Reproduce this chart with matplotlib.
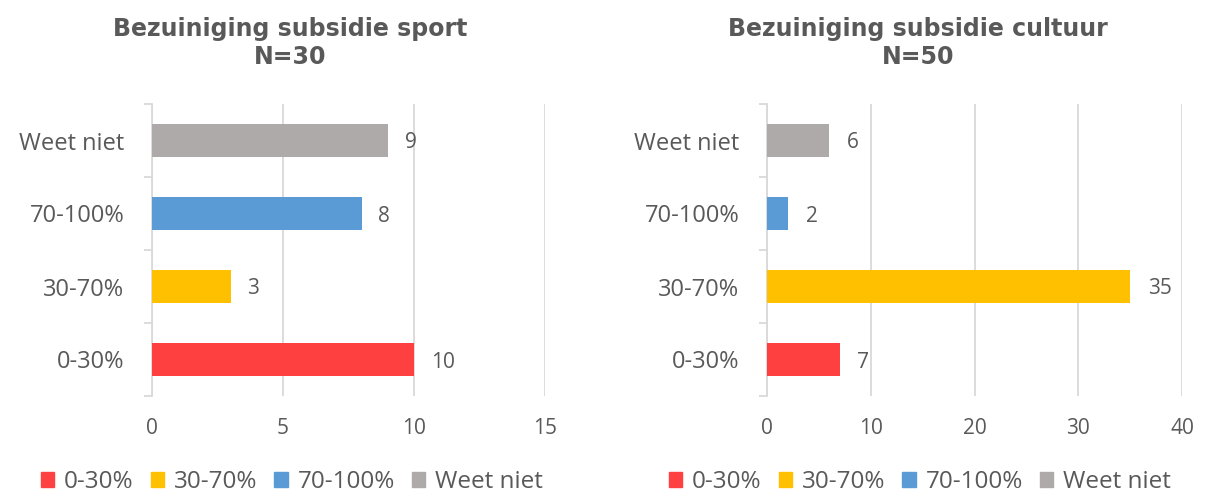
import matplotlib.pyplot as plt
from matplotlib.patches import Patch

# data
categories = ['0-30%', '30-70%', '70-100%', 'Weet niet']
sport_values = [10, 3, 8, 9]
cultuur_values = [7, 35, 2, 6]
sport_title = 'Bezuiniging subsidie sport\nN=30'
cultuur_title = 'Bezuiniging subsidie cultuur\nN=50'
colors = ['#ff4040', '#ffc000', '#5b9bd5', '#aeaaaa']

plt.rcParams['font.family'] = ['Open Sans', 'DejaVu Sans']
txt = '#595959'
grid = '#d9d9d9'

fig = plt.figure(figsize=(12.06, 4.96), dpi=100)
W, H = 1206, 496


def draw_panel(rect, values, xmax, step, title, title_x, legend_x):
    ax = fig.add_axes(rect)
    y = range(len(categories))
    ax.barh(y, values, height=0.44, color=colors, zorder=3)
    ax.set_xlim(0, xmax)
    ax.set_ylim(-0.5, len(categories) - 0.5)
    ax.set_xticks(range(0, xmax + 1, step))
    ax.tick_params(axis='x', length=0, pad=16, labelsize=15, labelcolor=txt)
    ax.grid(axis='x', color=grid, linewidth=1.3, zorder=0)
    # category boundaries as ticks, labels at centres
    ax.set_yticks([i - 0.5 for i in range(len(categories) + 1)])
    ax.set_yticklabels([])
    ax.tick_params(axis='y', which='major', length=6, color=grid, width=1.3)
    ax.set_yticks(list(y), minor=True)
    ax.set_yticklabels(categories, minor=True)
    ax.tick_params(axis='y', which='minor', length=0, pad=20, labelsize=17, labelcolor=txt)
    for s in ['top', 'right', 'bottom']:
        ax.spines[s].set_visible(False)
    ax.spines['left'].set_color(grid)
    ax.spines['left'].set_linewidth(1.3)
    for i, v in enumerate(values):
        ax.text(v + xmax * 0.043, i, str(v), va='center_baseline', ha='left',
                fontsize=15, color=txt)
    fig.text(title_x / W, 1 - 43 / H, title, ha='center', va='center',
             fontsize=17, fontweight='bold', color=txt, family='DejaVu Sans',
             linespacing=1.25)
    handles = [Patch(color=c) for c in colors]
    fig.legend(handles, categories, loc='center', bbox_to_anchor=(legend_x / W, 1 - 482 / H),
               ncol=4, frameon=False, fontsize=17.5, labelcolor=txt,
               handlelength=0.55, handleheight=0.55, handletextpad=0.4, columnspacing=0.7)
    return ax


def rect_px(x0, x1, y0, y1):
    return [x0 / W, 1 - y1 / H, (x1 - x0) / W, (y1 - y0) / H]


draw_panel(rect_px(152, 545, 104, 396), sport_values, 15, 5, sport_title, 290, 292)
draw_panel(rect_px(767, 1182, 104, 396), cultuur_values, 40, 10, cultuur_title, 918, 920)

fig.savefig('out.png', dpi=100)
